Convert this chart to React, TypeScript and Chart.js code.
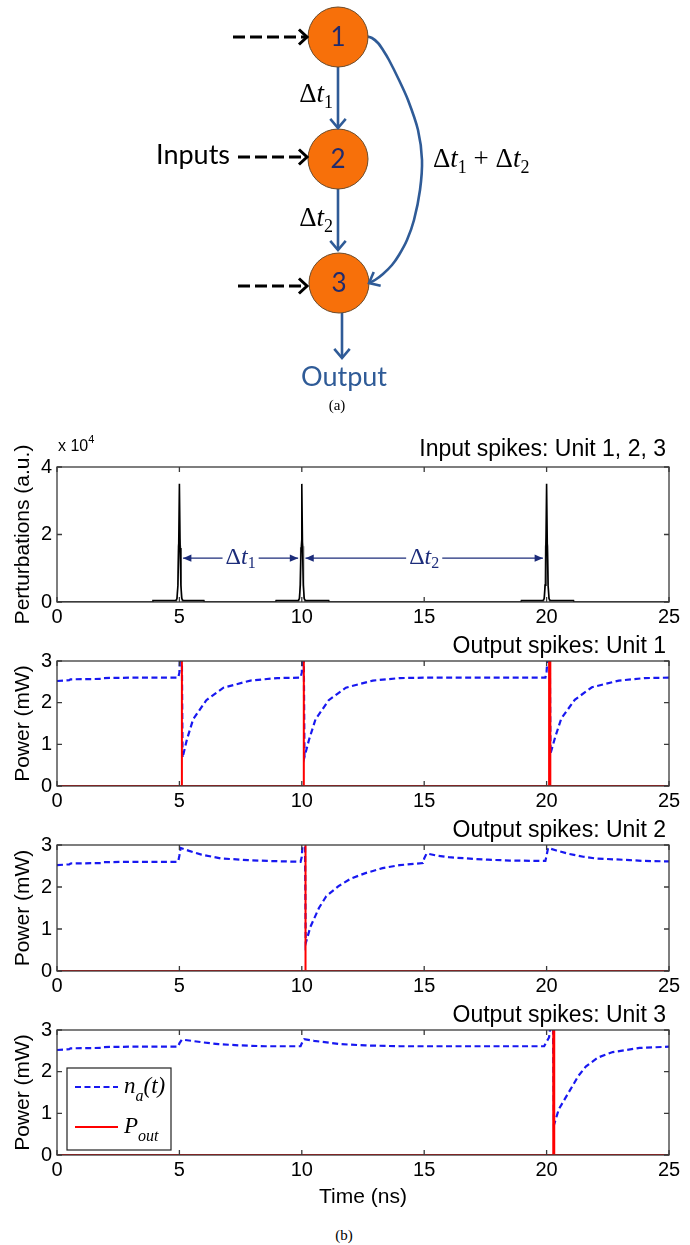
import React, { useEffect, useRef } from 'react';
import { Chart, registerables } from 'chart.js';

Chart.register(...registerables);

type P = [number, number];
const toXY = (a: P[]) => a.map(([x, y]) => ({ x, y }));

const SANS = '"Liberation Sans", Arial, Helvetica, sans-serif';
const SERIF = '"Liberation Serif", "Times New Roman", serif';
const HUM = 'Lato, "Open Sans", sans-serif';

// ================= (a) diagram data =================
const nodeLabels = ['1', '2', '3'];
const nodeX = [338, 338, 339];
const nodeY = [37, 159, 283];
const inputFromX = [233, 238, 238];
const inputToX = [307, 307, 307];
const inputRowY = [37, 157, 286];
const inputsLabel = 'Inputs';
const chainX: P[] = [[338, 338], [338, 338], [342, 342]];
const chainY: P[] = [[67, 128], [189, 250], [313, 358]];
const bypassX = [365, 372, 378, 383, 389, 399, 408, 418, 422, 420, 414, 407, 399, 392, 383, 375, 369];
const bypassY = [36, 38, 43, 50, 60, 80, 100, 130, 160, 190, 220, 240, 255, 265, 274, 280, 283];
const outputLabel = 'Output';

// ================= (b) data =================
const timeTicks = [0, 5, 10, 15, 20, 25];
const inputTicks = [0, 2, 4];
const powerTicks = [0, 1, 2, 3];
const panelTitles = ['Input spikes: Unit 1, 2, 3', 'Output spikes: Unit 1', 'Output spikes: Unit 2', 'Output spikes: Unit 3'];
const seriesLabels = ['n_a(t)', 'P_out'];

// perturbations (x 10^4)
const inputPerturbation: P[] = [
  [0, 0], [3.9, 0], [3.92, 0.04], [4.85, 0.04], [4.9, 0.1], [4.94, 0.5], [4.97, 1.6], [5.0, 3.5], [5.03, 1.6], [5.06, 0.5], [5.1, 0.1], [5.15, 0.04], [6.0, 0.04], [6.02, 0],
  [8.93, 0], [8.95, 0.04], [9.85, 0.04], [9.9, 0.1], [9.94, 0.5], [9.97, 1.6], [10.0, 3.5], [10.03, 1.6], [10.06, 0.5], [10.1, 0.1], [10.15, 0.04], [11.1, 0.04], [11.12, 0],
  [18.95, 0], [18.97, 0.04], [19.85, 0.04], [19.9, 0.1], [19.94, 0.5], [19.97, 1.6], [20.0, 3.5], [20.03, 1.6], [20.06, 0.5], [20.1, 0.1], [20.15, 0.04], [21.1, 0.04], [21.12, 0], [25, 0],
];
const inputEnvelope: P[] = [
  [4.88, 0], [4.92, 0.15], [4.95, 1.65], [5.0, 1.9], [5.05, 1.65], [5.08, 0.15], [5.12, 0], [9.88, 0], [9.92, 0.15], [9.95, 1.65], [10.0, 1.9],
  [10.05, 1.65], [10.08, 0.15], [10.12, 0], [19.88, 0], [19.92, 0.15], [19.95, 1.65], [20.0, 1.9], [20.05, 1.65], [20.08, 0.15], [20.12, 0],
];
const intervalLabels = ['Δt_1', 'Δt_2'];
const intervalStart = [5.15, 10.15];
const intervalEnd = [9.85, 19.85];
const intervalLevel = 1.3;

const unit1Na: P[] = [
  [0, 2.52], [0.5, 2.54], [0.55, 2.56], [1.8, 2.57], [1.85, 2.59], [3, 2.6], [4.95, 2.6], [5.0, 2.72], [5.03, 3.2], [5.1, 3.2], [5.13, 0.68],
  [5.3, 1.1], [5.56, 1.6], [6.1, 2.06], [6.8, 2.36], [7.9, 2.53], [9.0, 2.59], [9.95, 2.6], [10.0, 2.72], [10.03, 3.2], [10.08, 3.2], [10.11, 0.7],
  [10.3, 1.12], [10.56, 1.6], [11.1, 2.06], [11.8, 2.36], [12.9, 2.53], [14.0, 2.59], [15, 2.6], [19.95, 2.6], [20.0, 2.75], [20.05, 3.2], [20.13, 3.2],
  [20.16, 0.78], [20.35, 1.17], [20.6, 1.62], [21.15, 2.07], [21.85, 2.37], [22.95, 2.53], [24, 2.59], [25, 2.6],
];
const unit1Pout: P[] = [
  [0, 0], [5.1, 0], [5.1, 30], [5.104, 0], [10.08, 0], [10.08, 30], [10.084, 0], [20.1, 0], [20.1, 30], [20.104, 0], [20.15, 0], [20.15, 30], [20.154, 0], [25, 0],
];
const unit2Na: P[] = [
  [0, 2.52], [0.5, 2.54], [0.55, 2.56], [1.8, 2.57], [1.85, 2.59], [3, 2.6], [4.95, 2.6], [5.0, 2.75], [5.05, 2.93], [5.4, 2.86], [5.9, 2.77],
  [6.7, 2.68], [7.8, 2.64], [8.6, 2.62], [9.95, 2.6], [10.0, 2.72], [10.05, 3.2], [10.13, 3.2], [10.16, 0.66], [10.35, 1.05], [10.7, 1.5],
  [11.0, 1.78], [11.5, 2.02], [12.0, 2.2], [12.6, 2.33], [13.3, 2.45], [14.0, 2.52], [14.95, 2.57], [15.0, 2.68], [15.1, 2.8], [15.5, 2.75],
  [16.0, 2.71], [17.0, 2.67], [17.6, 2.65], [18.5, 2.63], [19.95, 2.62], [20.0, 2.75], [20.06, 2.93], [20.4, 2.87], [20.9, 2.79], [21.5, 2.72],
  [22.0, 2.68], [23.4, 2.64], [24, 2.62], [25, 2.61],
];
const unit2Pout: P[] = [[0, 0], [10.15, 0], [10.15, 30], [10.154, 0], [25, 0]];
const unit3Na: P[] = [
  [0, 2.52], [0.5, 2.54], [0.55, 2.56], [1.8, 2.57], [1.85, 2.59], [3, 2.6], [4.95, 2.6], [5.0, 2.68], [5.1, 2.77], [5.5, 2.74], [6.0, 2.7],
  [6.6, 2.66], [7.5, 2.63], [8.5, 2.61], [9.95, 2.61], [10.0, 2.68], [10.1, 2.78], [10.5, 2.74], [11.2, 2.69], [11.6, 2.66], [12.6, 2.63],
  [14, 2.61], [19.9, 2.61], [20.0, 2.72], [20.1, 2.82], [20.18, 3.2], [20.26, 3.2], [20.3, 0.72], [20.5, 1.1], [20.9, 1.5], [21.3, 1.9],
  [21.6, 2.12], [22.1, 2.34], [22.7, 2.47], [23.8, 2.57], [25, 2.6],
];
const unit3Pout: P[] = [[0, 0], [20.27, 0], [20.27, 30], [20.274, 0], [20.31, 0], [20.31, 30], [20.314, 0], [25, 0]];

// ================= helpers =================
type Run = { text: string; font: string; color?: string; dy?: number };

function drawRuns(ctx: CanvasRenderingContext2D, x: number, y: number, runs: Run[], align: string, color: string, bg?: { color: string; padX: number; h: number }) {
  ctx.save();
  ctx.textBaseline = 'middle';
  ctx.textAlign = 'left';
  const ws = runs.map((r) => { ctx.font = r.font; return ctx.measureText(r.text).width; });
  const total = ws.reduce((s, w) => s + w, 0);
  let sx = align === 'center' ? x - total / 2 : align === 'right' ? x - total : x;
  if (bg) { ctx.fillStyle = bg.color; ctx.fillRect(sx - bg.padX, y - bg.h / 2, total + 2 * bg.padX, bg.h); }
  runs.forEach((r, i) => {
    ctx.font = r.font;
    ctx.fillStyle = r.color || color;
    ctx.fillText(r.text, sx, y + (r.dy || 0));
    sx += ws[i];
  });
  ctx.restore();
}

function mathRuns(label: string, size: number, subSize: number, subDy: number, italicSub: boolean): Run[] {
  const runs: Run[] = [];
  const parts = label.split(/(_\w)/);
  parts.forEach((p) => {
    if (!p) return;
    if (p.startsWith('_')) {
      runs.push({ text: p.slice(1), font: `${italicSub ? 'italic ' : ''}${subSize}px ${SERIF}`, dy: subDy });
    } else {
      for (const ch of p) {
        const upright = ch === 'Δ' || ch === ' ' || ch === '+' || /[0-9]/.test(ch);
        runs.push({ text: ch === '+' ? ' + ' : ch, font: `${upright ? '' : 'italic '}${size}px ${SERIF}` });
      }
    }
  });
  return runs;
}

function legendRuns(label: string): Run[] {
  const m = label.match(/^(\w)_(\w+)(.*)$/);
  if (!m) return [{ text: label, font: `italic 23px ${SERIF}` }];
  const r: Run[] = [
    { text: m[1], font: `italic 23px ${SERIF}` },
    { text: m[2], font: `italic 16px ${SERIF}`, dy: 10 },
  ];
  if (m[3]) r.push({ text: m[3], font: `italic 23px ${SERIF}` });
  return r;
}

type TextItem = { at: (c: any) => { x: number; y: number }; runs: Run[]; align: string; color: string; bg?: { color: string; padX: number; h: number } };

function textPlugin(items: TextItem[]) {
  return {
    id: 'richtext',
    afterDatasetsDraw(chart: any) {
      items.forEach((it) => { const p = it.at(chart); drawRuns(chart.ctx, p.x, p.y, it.runs, it.align, it.color, it.bg); });
    },
  };
}

function arrowPlugin() {
  return {
    id: 'arrowheads',
    afterDatasetsDraw(chart: any) {
      const ctx = chart.ctx as CanvasRenderingContext2D;
      chart.data.datasets.forEach((ds: any, i: number) => {
        const spec = ds.arrowSpec;
        if (!spec) return;
        const els = chart.getDatasetMeta(i).data as any[];
        const n = els.length;
        if (n < 2) return;
        const heads: Array<[any, number, number]> = [];
        if (spec.end) {
          const last = els[n - 1];
          let fx = els[n - 2].x, fy = els[n - 2].y;
          if (typeof last.cp1x === 'number' && Math.hypot(last.cp1x - last.x, last.cp1y - last.y) > 0.5) { fx = last.cp1x; fy = last.cp1y; }
          heads.push([last, fx, fy]);
        }
        if (spec.start) {
          const first = els[0];
          let fx = els[1].x, fy = els[1].y;
          if (typeof first.cp2x === 'number' && Math.hypot(first.cp2x - first.x, first.cp2y - first.y) > 0.5) { fx = first.cp2x; fy = first.cp2y; }
          heads.push([first, fx, fy]);
        }
        ctx.save();
        heads.forEach(([tip, fx, fy]) => {
          const ang = Math.atan2(tip.y - fy, tip.x - fx);
          const L = spec.size, h = spec.spread;
          const ax = tip.x - L * Math.cos(ang - h), ay = tip.y - L * Math.sin(ang - h);
          const bx = tip.x - L * Math.cos(ang + h), by = tip.y - L * Math.sin(ang + h);
          ctx.beginPath();
          ctx.moveTo(ax, ay); ctx.lineTo(tip.x, tip.y); ctx.lineTo(bx, by);
          ctx.setLineDash([]);
          if (spec.filled) { ctx.closePath(); ctx.fillStyle = ds.borderColor; ctx.fill(); }
          else { ctx.lineWidth = spec.lineWidth || ds.borderWidth; ctx.strokeStyle = ds.borderColor; ctx.lineJoin = 'miter'; ctx.lineCap = 'butt'; ctx.stroke(); }
        });
        ctx.restore();
      });
    },
  };
}

function boxPlugin() {
  return {
    id: 'mbox',
    afterDatasetsDraw(chart: any) {
      const { ctx, chartArea: a, scales } = chart;
      const L = 5;
      ctx.save();
      ctx.strokeStyle = '#3a3a3a';
      ctx.lineWidth = 1.3;
      ctx.setLineDash([]);
      ctx.strokeRect(a.left, a.top, a.right - a.left, a.bottom - a.top);
      ctx.beginPath();
      scales.x.ticks.forEach((t: any) => {
        const px = scales.x.getPixelForValue(t.value);
        ctx.moveTo(px, a.bottom); ctx.lineTo(px, a.bottom - L);
        ctx.moveTo(px, a.top); ctx.lineTo(px, a.top + L);
      });
      scales.y.ticks.forEach((t: any) => {
        const py = scales.y.getPixelForValue(t.value);
        ctx.moveTo(a.left, py); ctx.lineTo(a.left + L, py);
        ctx.moveTo(a.right, py); ctx.lineTo(a.right - L, py);
      });
      ctx.stroke();
      ctx.restore();
    },
  };
}

function legendPlugin(entries: { color: string; dash: number[]; width: number; label: string }[]) {
  return {
    id: 'mlegend',
    afterDraw(chart: any) {
      const a = chart.chartArea;
      const ctx = chart.ctx as CanvasRenderingContext2D;
      const L = a.left + 10, T = a.top + 38, W = 104, H = 82;
      ctx.save();
      ctx.fillStyle = '#fff'; ctx.fillRect(L, T, W, H);
      ctx.strokeStyle = '#222'; ctx.lineWidth = 1.2; ctx.setLineDash([]); ctx.strokeRect(L, T, W, H);
      entries.forEach((e, i) => {
        const y = T + 19 + i * 40;
        ctx.beginPath(); ctx.setLineDash(e.dash); ctx.strokeStyle = e.color; ctx.lineWidth = e.width;
        ctx.moveTo(L + 8, y); ctx.lineTo(L + 51, y); ctx.stroke();
        ctx.setLineDash([]);
        drawRuns(ctx, L + 57, y, legendRuns(e.label), 'left', '#000');
      });
      ctx.restore();
    },
  };
}

const BLUE = '#1818F0';
const RED = '#FF0000';
const NAVY = '#1C2C7A';
const DIAG_BLUE = '#2F5B97';

function naDataset(data: P[]) {
  return { label: seriesLabels[0], data: toXY(data), borderColor: BLUE, borderWidth: 2.2, borderDash: [6, 3.5], pointRadius: 0, fill: false, order: 1 };
}
function poutDataset(data: P[]) {
  return { label: seriesLabels[1], data: toXY(data), borderColor: RED, borderWidth: 2, pointRadius: 0, fill: false, order: 0 };
}

function panelConfig(o: { datasets: any[]; yMax: number; yTicks: number[]; yTitle: string; title: string; titleGap: number; xTitle?: string; xH: number; extra: any[] }) {
  const tickFont = { family: SANS, size: 20 };
  const titleItem: TextItem = {
    at: (c) => ({ x: c.chartArea.right - 3, y: c.chartArea.top - o.titleGap }),
    runs: [{ text: o.title, font: `23px ${SANS}` }], align: 'right', color: '#000',
  };
  return {
    type: 'line',
    data: { datasets: o.datasets },
    options: {
      animation: false, responsive: false, maintainAspectRatio: false,
      layout: { padding: { top: 40, right: 21, left: 0, bottom: 0 }, autoPadding: false },
      elements: { point: { radius: 0 }, line: { tension: 0 } },
      plugins: { legend: { display: false }, tooltip: { enabled: false } },
      scales: {
        x: {
          type: 'linear', min: 0, max: 25,
          afterBuildTicks: (s: any) => { s.ticks = timeTicks.map((v) => ({ value: v })); },
          ticks: { font: tickFont, color: '#000', padding: 3, maxRotation: 0, autoSkip: false },
          grid: { display: false, drawTicks: false }, border: { display: false },
          afterFit: (s: any) => { s.height = o.xH; },
          title: o.xTitle ? { display: true, text: o.xTitle, font: { family: SANS, size: 21 }, color: '#000', padding: { top: 0, bottom: 0 } } : { display: false },
        },
        y: {
          type: 'linear', min: 0, max: o.yMax,
          afterBuildTicks: (s: any) => { s.ticks = o.yTicks.map((v) => ({ value: v })); },
          ticks: { font: tickFont, color: '#000', padding: 5 },
          grid: { display: false, drawTicks: false }, border: { display: false },
          afterFit: (s: any) => { s.width = 57; },
          title: { display: true, text: o.yTitle, font: { family: SANS, size: 21 }, color: '#000', padding: { top: 11, bottom: 0 } },
        },
      },
    },
    plugins: [arrowPlugin(), boxPlugin(), textPlugin([titleItem]), ...o.extra],
  };
}

function diagramConfig() {
  const nodes = nodeX.map((x, i) => ({ x, y: nodeY[i] }));
  const datasets: any[] = [
    { data: nodes, pointRadius: 30, pointHoverRadius: 30, pointBackgroundColor: '#F7700A', pointBorderColor: '#6A4A2A', pointBorderWidth: 1, showLine: false, order: 0 },
  ];
  inputFromX.forEach((x0, i) => {
    datasets.push({ data: [{ x: x0, y: inputRowY[i] }, { x: inputToX[i], y: inputRowY[i] }], showLine: true, pointRadius: 0, borderColor: '#000', borderWidth: 3, borderDash: [12, 5], order: 1, arrowSpec: { end: true, size: 11, spread: 0.75, lineWidth: 3 } });
  });
  chainX.forEach((xs, i) => {
    datasets.push({ data: [{ x: xs[0], y: chainY[i][0] }, { x: xs[1], y: chainY[i][1] }], showLine: true, pointRadius: 0, borderColor: DIAG_BLUE, borderWidth: 2.6, order: 1, arrowSpec: { end: true, size: 12, spread: 0.7, lineWidth: 2.6 } });
  });
  datasets.push({ data: bypassX.map((x, i) => ({ x, y: bypassY[i] })), showLine: true, pointRadius: 0, borderColor: DIAG_BLUE, borderWidth: 2.6, tension: 0.3, order: 1, arrowSpec: { end: true, size: 12, spread: 0.7, lineWidth: 2.6 } });

  const px = (x: number, y: number) => (c: any) => ({ x: c.scales.x.getPixelForValue(x), y: c.scales.y.getPixelForValue(y) });
  const items: TextItem[] = [
    { at: px(230, 155), runs: [{ text: inputsLabel, font: `27px ${HUM}` }], align: 'right', color: '#000' },
    ...nodeLabels.map((t, i) => ({ at: px(nodeX[i], nodeY[i] + 1), runs: [{ text: t, font: `26px ${HUM}` }], align: 'center', color: '#1F2B6E' })),
    { at: px(333, 95), runs: mathRuns('Δt_1', 27, 18, 8, false), align: 'right', color: '#000' },
    { at: px(333, 219), runs: mathRuns('Δt_2', 27, 18, 8, false), align: 'right', color: '#000' },
    { at: px(433, 160), runs: mathRuns('Δt_1+Δt_2', 27, 18, 8, false), align: 'left', color: '#000' },
    { at: px(344, 377), runs: [{ text: outputLabel, font: `27px ${HUM}` }], align: 'center', color: DIAG_BLUE },
  ];
  return {
    type: 'scatter',
    data: { datasets },
    options: {
      animation: false, responsive: false, maintainAspectRatio: false,
      layout: { padding: 0, autoPadding: false },
      scales: { x: { type: 'linear', min: 0, max: 690, display: false }, y: { type: 'linear', min: 0, max: 400, reverse: true, display: false } },
      plugins: { legend: { display: false }, tooltip: { enabled: false } },
    },
    plugins: [arrowPlugin(), textPlugin(items)],
  };
}

function inputPanelConfig() {
  const datasets: any[] = [
    { data: toXY(inputPerturbation), borderColor: '#000', borderWidth: 1.6, pointRadius: 0, fill: false, order: 0 },
    { data: toXY(inputEnvelope), borderColor: '#8a8a8a', borderWidth: 1.2, pointRadius: 0, fill: false, order: 2 },
  ];
  intervalStart.forEach((s, i) => {
    datasets.push({ data: [{ x: s, y: intervalLevel }, { x: intervalEnd[i], y: intervalLevel }], borderColor: NAVY, borderWidth: 1.3, pointRadius: 0, order: 1, arrowSpec: { start: true, end: true, size: 9, spread: 0.4, filled: true } });
  });
  const labelItems: TextItem[] = intervalLabels.map((lab, i) => ({
    at: (c: any) => ({ x: c.scales.x.getPixelForValue((intervalStart[i] + intervalEnd[i]) / 2), y: c.scales.y.getPixelForValue(intervalLevel) }),
    runs: mathRuns(lab, 24, 16, 6, false), align: 'center', color: NAVY, bg: { color: '#fff', padX: 3, h: 6 },
  }));
  const expItem: TextItem = {
    at: (c: any) => ({ x: c.chartArea.left + 1, y: c.chartArea.top - 20 }),
    runs: [{ text: 'x 10', font: `16px ${SANS}` }, { text: '4', font: `11px ${SANS}`, dy: -7 }], align: 'left', color: '#000',
  };
  return panelConfig({ datasets, yMax: 4, yTicks: inputTicks, yTitle: 'Perturbations (a.u.)', title: panelTitles[0], titleGap: 17, xH: 30, extra: [textPlugin([...labelItems, expItem])] });
}

function unitConfig(idx: number, na: P[], pout: P[], last: boolean) {
  const datasets = [naDataset(na), poutDataset(pout)];
  const extra: any[] = [];
  if (last) extra.push(legendPlugin([
    { color: BLUE, dash: [6, 3.5], width: 2.2, label: seriesLabels[0] },
    { color: RED, dash: [], width: 2.2, label: seriesLabels[1] },
  ]));
  return panelConfig({ datasets, yMax: 3, yTicks: powerTicks, yTitle: 'Power (mW)', title: panelTitles[idx], titleGap: 14, xTitle: last ? 'Time (ns)' : undefined, xH: last ? 55 : 30, extra });
}

function ChartCanvas({ top, height, make }: { top: number; height: number; make: () => any }) {
  const ref = useRef<HTMLCanvasElement>(null);
  useEffect(() => {
    const chart = new Chart(ref.current as HTMLCanvasElement, make());
    return () => chart.destroy();
  }, []);
  return <canvas ref={ref} width={690} height={height} style={{ position: 'absolute', left: 0, top, width: 690, height }} />;
}

export default function App() {
  const cap: React.CSSProperties = { position: 'absolute', left: 0, width: 690, textAlign: 'center', fontFamily: SERIF, fontSize: 15, lineHeight: '18px', color: '#000' };
  return (
    <div style={{ position: 'absolute', left: 0, top: 0, width: 690, height: 1245, background: '#fff', overflow: 'hidden' }}>
      <ChartCanvas top={0} height={400} make={diagramConfig} />
      <div style={{ ...cap, top: 396, left: -8 }}>(a)</div>
      <ChartCanvas top={427} height={205} make={inputPanelConfig} />
      <ChartCanvas top={621} height={195} make={() => unitConfig(1, unit1Na, unit1Pout, false)} />
      <ChartCanvas top={805} height={196} make={() => unitConfig(2, unit2Na, unit2Pout, false)} />
      <ChartCanvas top={990} height={220} make={() => unitConfig(3, unit3Na, unit3Pout, true)} />
      <div style={{ ...cap, top: 1226, left: -1 }}>(b)</div>
    </div>
  );
}
